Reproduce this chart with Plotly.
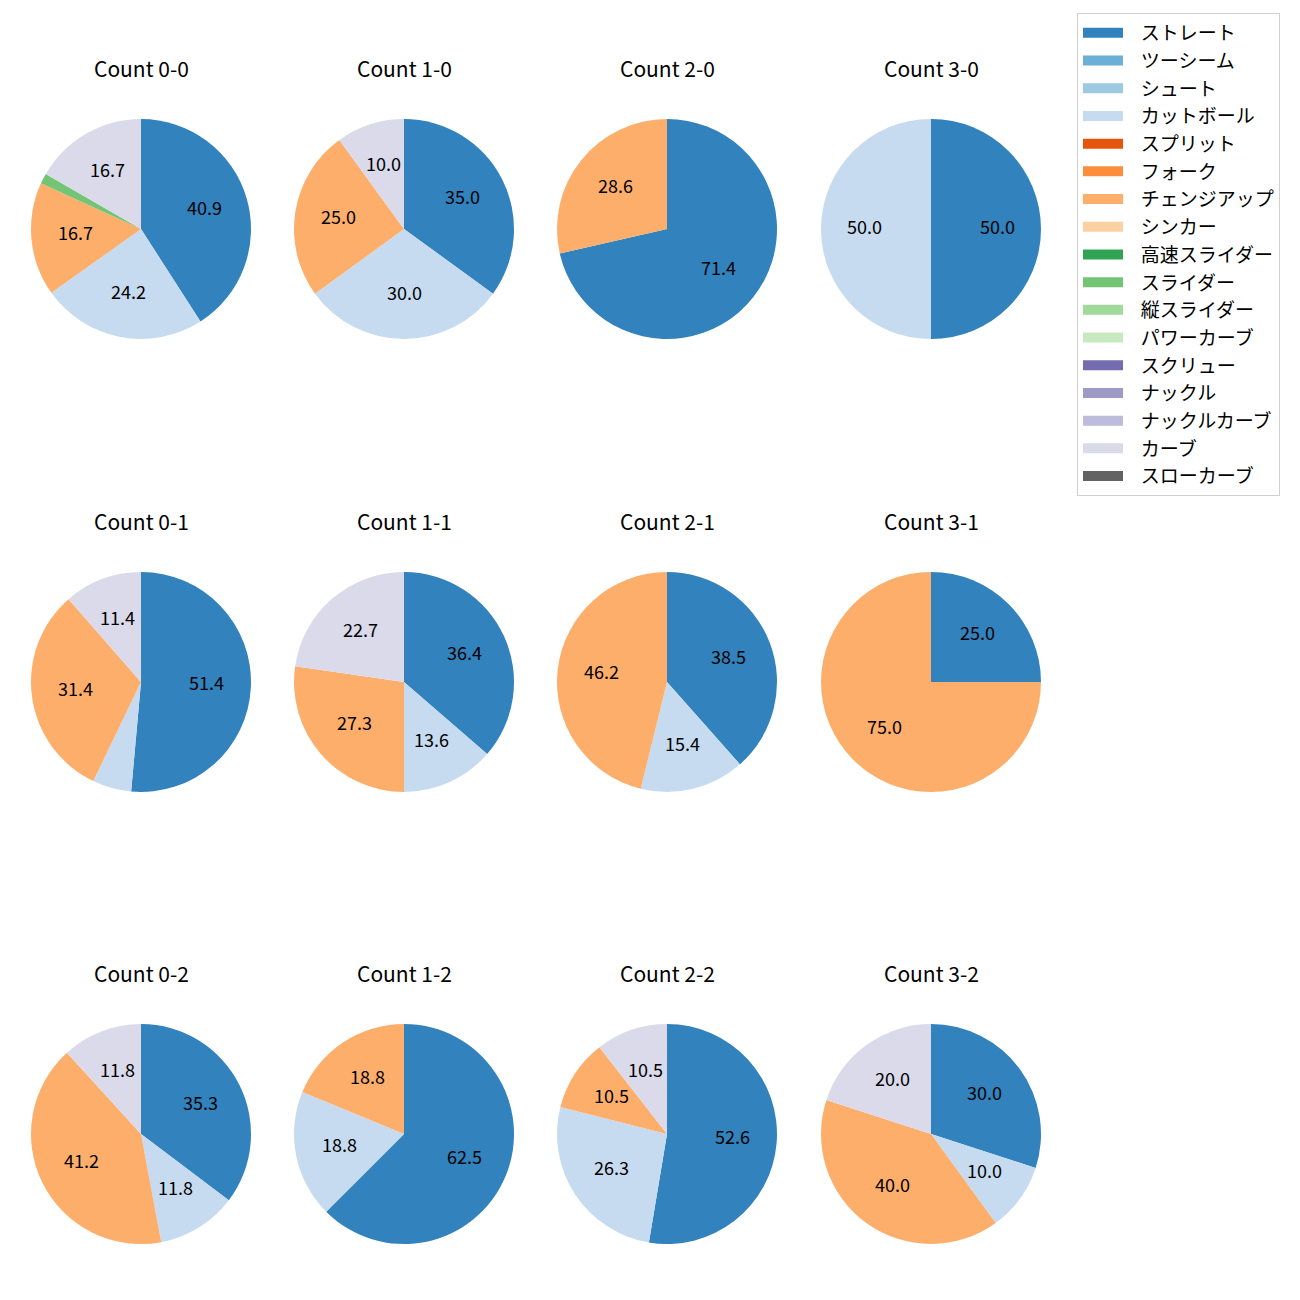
import math
import plotly.graph_objects as go

pitch_types = ["ストレート", "ツーシーム", "シュート", "カットボール", "スプリット", "フォーク",
               "チェンジアップ", "シンカー", "高速スライダー", "スライダー", "縦スライダー",
               "パワーカーブ", "スクリュー", "ナックル", "ナックルカーブ", "カーブ", "スローカーブ"]
colors = ["#3182bd", "#6baed6", "#9ecae1", "#c6dbef", "#e6550d", "#fd8d3c", "#fdae6b",
          "#fdd0a2", "#31a354", "#74c476", "#a1d99b", "#c7e9c0", "#756bb1", "#9e9ac8",
          "#bcbddc", "#dadaeb", "#636363"]

counts = ["0-0", "1-0", "2-0", "3-0",
          "0-1", "1-1", "2-1", "3-1",
          "0-2", "1-2", "2-2", "3-2"]

# pitch counts per ball-strike count (only types that appear)
c00_types = ["ストレート", "カットボール", "チェンジアップ", "スライダー", "カーブ"]
c00_vals = [27, 16, 11, 1, 11]
c10_types = ["ストレート", "カットボール", "チェンジアップ", "カーブ"]
c10_vals = [7, 6, 5, 2]
c20_types = ["ストレート", "チェンジアップ"]
c20_vals = [5, 2]
c30_types = ["ストレート", "カットボール"]
c30_vals = [1, 1]
c01_types = ["ストレート", "カットボール", "チェンジアップ", "カーブ"]
c01_vals = [18, 2, 11, 4]
c11_types = ["ストレート", "カットボール", "チェンジアップ", "カーブ"]
c11_vals = [8, 3, 6, 5]
c21_types = ["ストレート", "カットボール", "チェンジアップ"]
c21_vals = [5, 2, 6]
c31_types = ["ストレート", "チェンジアップ"]
c31_vals = [1, 3]
c02_types = ["ストレート", "カットボール", "チェンジアップ", "カーブ"]
c02_vals = [6, 2, 7, 2]
c12_types = ["ストレート", "カットボール", "チェンジアップ"]
c12_vals = [10, 3, 3]
c22_types = ["ストレート", "カットボール", "チェンジアップ", "カーブ"]
c22_vals = [10, 5, 2, 2]
c32_types = ["ストレート", "カットボール", "チェンジアップ", "カーブ"]
c32_vals = [3, 1, 4, 2]

data = [(c00_types, c00_vals), (c10_types, c10_vals), (c20_types, c20_vals), (c30_types, c30_vals),
        (c01_types, c01_vals), (c11_types, c11_vals), (c21_types, c21_vals), (c31_types, c31_vals),
        (c02_types, c02_vals), (c12_types, c12_vals), (c22_types, c22_vals), (c32_types, c32_vals)]

W = H = 1300
OFF = 8  # page body margin
col_cx = [141, 404, 667, 931]
row_cy = [229, 682, 1134]
R = 110
FONT = "Noto Sans CJK JP"
cmap = dict(zip(pitch_types, colors))


def px_x(sx):
    return (sx - OFF) / W


def px_y(sy):
    return 1 - (sy - OFF) / H


fig = go.Figure()
annotations = []
for i, (cnt, (types, vals)) in enumerate(zip(counts, data)):
    cx = col_cx[i % 4]
    cy = row_cy[i // 4]
    fig.add_trace(go.Pie(
        labels=types, values=vals, sort=False, direction="clockwise", rotation=0,
        marker=dict(colors=[cmap[t] for t in types], line=dict(width=0)),
        textinfo="none", showlegend=False, name="Count " + cnt,
        domain=dict(x=[px_x(cx - R), px_x(cx + R)], y=[px_y(cy + R), px_y(cy - R)]),
    ))
    total = sum(vals)
    cum = 0.0
    for v in vals:
        mid = (cum + v / 2) / total * 2 * math.pi
        cum += v
        pct = v / total * 100
        if pct < 8:
            continue
        lx = cx + 0.6 * R * math.sin(mid)
        ly = cy - 0.6 * R * math.cos(mid) - 3
        annotations.append(dict(x=px_x(lx), y=px_y(ly), xref="paper", yref="paper",
                                text=f"{pct:.1f}", showarrow=False,
                                font=dict(size=18, color="black", family=FONT),
                                xanchor="center", yanchor="middle"))
    annotations.append(dict(x=px_x(cx), y=px_y(cy - 161), xref="paper", yref="paper",
                            text="Count " + cnt, showarrow=False,
                            font=dict(size=21, color="black", family=FONT),
                            xanchor="center", yanchor="middle"))

for t, c in zip(pitch_types, colors):
    fig.add_trace(go.Scatter(x=[None], y=[None], mode="lines", name="\u00a0\u00a0\u00a0" + t,
                             line=dict(color=c, width=13), hoverinfo="skip"))

fig.update_layout(
    width=W, height=H, margin=dict(l=0, r=0, t=0, b=0),
    paper_bgcolor="white", plot_bgcolor="white",
    xaxis=dict(visible=False), yaxis=dict(visible=False),
    annotations=annotations,
    font=dict(family=FONT, color="black"),
    legend=dict(x=px_x(1077), y=px_y(13), xanchor="left", yanchor="top",
                bordercolor="#d0d0d0", borderwidth=1, bgcolor="white",
                font=dict(size=19, family=FONT), itemwidth=40),
)
fig.write_html("out.html")
